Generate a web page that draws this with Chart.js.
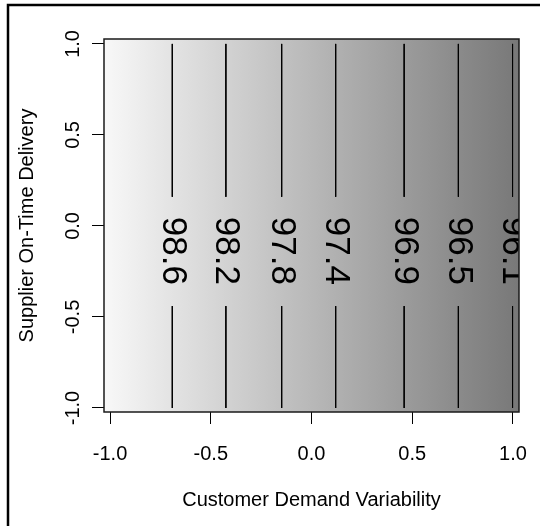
<!DOCTYPE html>
<html>
<head>
<meta charset="utf-8">
<script src="https://cdn.jsdelivr.net/npm/chart.js@4.4.1/dist/chart.umd.min.js"></script>
<style>
  html, body { margin: 0; padding: 0; background: #fff; }
</style>
</head>
<body>
<canvas id="plot" width="540" height="526"></canvas>
<script>
// contour levels, each one a vertical line at its x position
const contourLabels = ['98.6', '98.2', '97.8', '97.4', '96.9', '96.5', '96.1'];
const contourX = [-0.691, -0.425, -0.148, 0.120, 0.460, 0.729, 0.998];
// lines are broken around the label
const lineTop = [1.0, 0.16];
const lineBottom = [-0.44, -1.0];
const labelY = -0.137;

const xTicks = [-1, -0.5, 0, 0.5, 1];
const yTicks = [-1, -0.5, 0, 0.5, 1];
const xTitle = 'Customer Demand Variability';
const yTitle = 'Supplier On-Time Delivery';

const FONT = '"Liberation Sans", Arial, sans-serif';

const datasets = contourX.map((x, i) => ({
  label: contourLabels[i],
  data: [
    { x: x, y: lineTop[0] }, { x: x, y: lineTop[1] },
    { x: x, y: null },
    { x: x, y: lineBottom[0] }, { x: x, y: lineBottom[1] }
  ],
  borderColor: '#000',
  borderWidth: 1,
  pointRadius: 0,
  spanGaps: false,
  fill: false
}));

const panelPlugin = {
  id: 'panel',
  beforeDraw(chart) {
    const { ctx, chartArea: a, scales: { x } } = chart;
    ctx.save();
    // outer frame, only top and left edges are in view
    ctx.strokeStyle = '#000';
    ctx.lineWidth = 2.5;
    ctx.beginPath();
    ctx.moveTo(540, 5);
    ctx.lineTo(8, 5);
    ctx.lineTo(8, 526);
    ctx.stroke();
    // shaded background, light to dark along x
    const g = ctx.createLinearGradient(x.getPixelForValue(x.min), 0, x.getPixelForValue(x.max), 0);
    g.addColorStop(0, '#f8f8f8');
    g.addColorStop(1, '#787878');
    ctx.fillStyle = g;
    ctx.fillRect(a.left, a.top, a.right - a.left, a.bottom - a.top);
    ctx.restore();
  },
  afterDatasetsDraw(chart) {
    const { ctx, chartArea: a, scales: { x, y } } = chart;
    ctx.save();
    // contour labels, clipped to the panel
    ctx.beginPath();
    ctx.rect(a.left, a.top, a.right - a.left, a.bottom - a.top);
    ctx.clip();
    ctx.fillStyle = '#000';
    ctx.font = '35px ' + FONT;
    ctx.textAlign = 'center';
    ctx.textBaseline = 'middle';
    contourX.forEach((v, i) => {
      ctx.save();
      ctx.translate(x.getPixelForValue(v), y.getPixelForValue(labelY));
      ctx.rotate(Math.PI / 2);
      ctx.fillText(contourLabels[i], 0, 0);
      ctx.restore();
    });
    ctx.restore();

    // panel border
    ctx.save();
    ctx.strokeStyle = '#1a1a1a';
    ctx.lineWidth = 1.5;
    ctx.strokeRect(a.left, a.top, a.right - a.left, a.bottom - a.top);

    // y tick labels, vertical like the title
    ctx.fillStyle = '#000';
    ctx.font = '20px ' + FONT;
    ctx.textAlign = 'center';
    ctx.textBaseline = 'middle';
    yTicks.forEach(v => {
      ctx.save();
      ctx.translate(73, y.getPixelForValue(v));
      ctx.rotate(-Math.PI / 2);
      ctx.fillText(v.toFixed(1), 0, 0);
      ctx.restore();
    });
    ctx.restore();
  }
};

new Chart(document.getElementById('plot'), {
  type: 'line',
  data: { datasets },
  options: {
    responsive: false,
    animation: false,
    layout: { padding: { top: 39, right: 21, left: 0, bottom: 0 } },
    plugins: { legend: { display: false }, tooltip: { enabled: false } },
    scales: {
      x: {
        type: 'linear',
        min: -1.03,
        max: 1.03,
        afterBuildTicks: s => { s.ticks = xTicks.map(v => ({ value: v })); },
        afterFit: s => { s.height = 114; s.paddingLeft = 0; s.paddingRight = 0; },
        border: { display: false },
        grid: { drawOnChartArea: false, drawTicks: true, tickLength: 12, color: '#000', lineWidth: 1 },
        ticks: {
          color: '#000',
          padding: 18,
          font: { family: FONT, size: 20 },
          maxRotation: 0,
          callback: v => Number(v).toFixed(1)
        },
        title: {
          display: true,
          text: xTitle,
          color: '#000',
          font: { family: FONT, size: 20 },
          padding: { top: 0, bottom: 14 }
        }
      },
      y: {
        type: 'linear',
        min: -1.022,
        max: 1.027,
        afterBuildTicks: s => { s.ticks = yTicks.map(v => ({ value: v })); },
        afterFit: s => { s.width = 104; s.paddingTop = 0; s.paddingBottom = 0; },
        border: { display: false },
        grid: { drawOnChartArea: false, drawTicks: true, tickLength: 12, color: '#000', lineWidth: 1 },
        ticks: { display: false },
        title: {
          display: true,
          text: yTitle,
          color: '#000',
          font: { family: FONT, size: 20 },
          padding: { top: 15, bottom: 0 }
        }
      }
    }
  },
  plugins: [panelPlugin]
});
</script>
</body>
</html>
